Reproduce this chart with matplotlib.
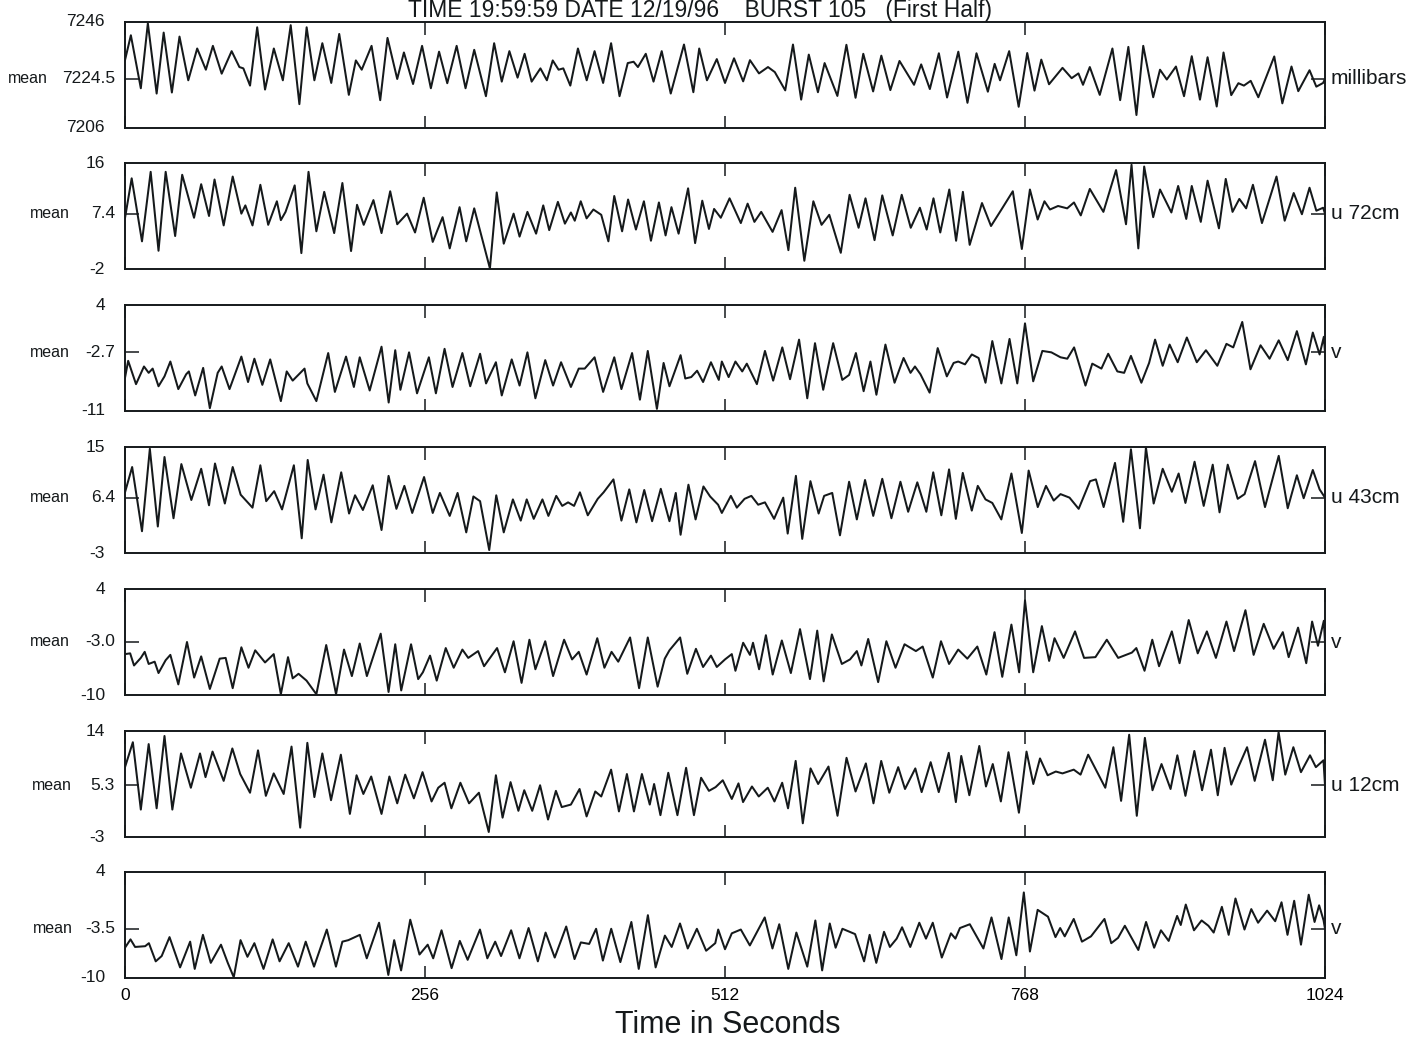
import numpy as np
import matplotlib
matplotlib.use('Agg')
from matplotlib import pyplot as plt
from matplotlib import transforms

plt.rcParams['font.family'] = ['Liberation Sans', 'DejaVu Sans']

# turning points (time in s, value)
p_millibars = [
    (0, 7231.6), (5, 7241), (13.5, 7221), (19.5, 7245.5), (27, 7219), (33, 7242), (40, 7219.4),
    (46.5, 7240.5), (54, 7224), (61.6, 7236), (69, 7228), (75, 7237), (82.5, 7226.5), (91, 7235),
    (97.6, 7229), (101, 7228.5), (106.7, 7222), (112.8, 7244), (119.5, 7220.5), (127, 7236),
    (134.7, 7224), (141.4, 7244.8), (148.8, 7215), (155, 7244), (161.6, 7224), (168.4, 7238),
    (176, 7223), (182.8, 7241.5), (191, 7218.5), (197, 7231.5), (202, 7228), (210.4, 7237),
    (217.8, 7216.5), (224, 7240), (232.3, 7224.5), (238, 7234.5), (245.8, 7222.6), (253.5, 7237),
    (261, 7221), (268, 7234.8), (275, 7222.9), (283, 7237), (290.6, 7221), (298, 7235.5),
    (308, 7218), (315, 7238), (321.5, 7223.5), (328, 7235), (335, 7225), (341, 7234),
    (347, 7223.5), (354.5, 7228.5), (360, 7224), (365, 7231.5), (370, 7228), (374, 7228.5),
    (380, 7222), (386.5, 7236), (394, 7224), (400.7, 7235), (408, 7223), (414.8, 7238),
    (422, 7218), (429, 7230.5), (434, 7231), (437.7, 7229), (444.4, 7234), (451, 7223.5),
    (458, 7235), (465.7, 7219), (477, 7237.5), (485, 7219.5), (490, 7236), (496.6, 7224),
    (505, 7232), (512, 7223), (519.7, 7232.3), (527.5, 7223.6), (533.3, 7231.6), (541, 7226.6),
    (548.7, 7229), (554.5, 7227.1), (563.4, 7220.2), (570, 7237.5), (577, 7216.7), (583.5, 7233.7),
    (591.3, 7219.5), (597, 7230.5), (607.9, 7218.1), (615.6, 7237.4), (623.4, 7217.4), (630, 7234),
    (638.4, 7219.8), (645.4, 7233.3), (653.1, 7220.3), (660.9, 7231.3), (673.3, 7222.3), (679.4, 7230),
    (686.8, 7220.7), (694.5, 7234.2), (701.5, 7217.5), (711.1, 7234.8), (718.9, 7215.5), (726.6, 7234.2),
    (736.3, 7219.7), (742.1, 7230.2), (746.7, 7224), (754.5, 7235), (762.6, 7214), (769.9, 7234.3),
    (776.1, 7220.1), (781.9, 7231.8), (788.5, 7222.5), (800, 7228.7), (807.8, 7224.8), (813.6, 7226.6),
    (817.5, 7222.3), (823.3, 7229), (831.8, 7218.5), (842.6, 7236), (849.2, 7216.5), (856.2, 7236.6),
    (863.1, 7210.9), (868.9, 7237), (877.4, 7217.6), (883.2, 7228), (889, 7224.3), (896.8, 7229.2),
    (903.7, 7218), (910.3, 7233.1), (917.3, 7216.7), (923.8, 7232.7), (931.6, 7214.1), (937.4, 7234.5),
    (944, 7218.4), (950.1, 7222.9), (954.8, 7222), (960.6, 7223.8), (967.1, 7217.6), (980.7, 7233),
    (987.6, 7215.3), (995.4, 7229.2), (1001.2, 7219.9), (1010.8, 7227.8), (1016.6, 7221.6),
    (1022.4, 7223), (1024, 7224.5),
]

u_72cm = [
    (0, 6.65), (5.7, 13.4), (14.5, 2.7), (21.9, 14.5), (28.6, 1.1), (34.7, 14.5), (42.8, 3.6),
    (48.8, 14), (58.9, 6.7), (65, 12.4), (71.7, 7.0), (76.4, 13.2), (84.2, 5.4), (91.9, 13.7),
    (99.3, 7.4), (102.7, 8.8), (108.8, 5.4), (115.5, 12.3), (122.2, 5.5), (129.6, 9.5), (133, 6.3),
    (137, 7.7), (144.8, 12.2), (150.5, 0.7), (156.6, 14.5), (163.3, 4.4), (170, 11.1), (178.5, 4.1),
    (185.5, 12.6), (192.9, 1.05), (198, 8.9), (203.7, 5.5), (212, 9.7), (218.9, 4.1), (226.3, 11.2),
    (232.3, 5.6), (240.7, 7.4), (247.5, 4.2), (254.9, 10.1), (262.6, 2.6), (271, 6.8), (277.1, 1.5),
    (285.5, 8.5), (291.2, 2.7), (298, 8.3), (311.4, -1.9), (317.2, 11.0), (323.2, 2.3), (331.6, 7.4),
    (336.7, 3.5), (343.4, 7.7), (350.8, 4.0), (356.9, 8.8), (362, 4.6), (369.4, 9.4), (375.4, 5.7),
    (380.5, 7.6), (383.8, 6.2), (388.9, 9.5), (393.9, 6.6), (399.7, 8.1), (406.4, 7.2), (412.5, 2.7),
    (417.5, 10.4), (424.2, 4.4), (429.3, 9.8), (436, 4.7), (442.8, 9.5), (448.8, 2.8), (455.6, 9.3),
    (461.3, 3.7), (466.3, 8.5), (472.4, 4.0), (480.5, 11.7), (486.5, 2.4), (492.6, 9.6), (498.3, 4.8),
    (502.7, 8.2), (508.4, 6.7), (515.9, 10.0), (525.5, 5.8), (531.3, 9.1), (537.1, 6.0), (542.9, 7.7),
    (552.6, 4.3), (560.3, 8.0), (566.1, 1.2), (571.9, 11.8), (579.7, -0.6), (587.4, 9.5), (594.4, 5.5),
    (601, 7.2), (610.8, 0.75), (618.3, 10.6), (626, 5.0), (631.9, 10.0), (639.6, 2.9), (646.2, 10.5),
    (655.1, 3.7), (662.8, 10.6), (670.5, 5.0), (678.3, 8.4), (684.1, 4.7), (689.9, 10.0), (695.7, 4.2),
    (703.4, 11.5), (709.2, 2.8), (715, 11.1), (720.8, 2.1), (731.3, 9.2), (739, 5.3), (747.9, 8.1),
    (757.6, 11.2), (765.3, 1.4), (772.2, 11.5), (778.8, 6.4), (784.6, 9.5), (789.3, 8.1), (796.2, 8.7),
    (804, 8.3), (809.8, 9.3), (815.6, 7.1), (823.3, 11.6), (834.9, 7.7), (845.7, 14.8), (854.2, 5.6),
    (858.9, 15.7), (864.7, 1.5), (869.7, 15.4), (877.4, 6.8), (883.2, 11.5), (892.9, 7.6), (898.7, 12.1),
    (905.6, 6.5), (910.3, 12.1), (918, 6.0), (923.8, 13.0), (933.5, 4.9), (939.3, 13.3), (945.1, 7.7),
    (950.9, 9.9), (956.7, 8.3), (962.5, 12.3), (970.2, 5.8), (982.6, 13.7), (989.6, 6.2), (997.3, 10.9),
    (1004.3, 7.3), (1010.8, 11.8), (1016.6, 7.9), (1022.4, 8.4), (1024, 7.4),
]

v_72cm = [
    (0, -6.3), (2.7, -3.9), (9.4, -7.2), (16.2, -4.7), (20.2, -5.6), (23.6, -5.0), (28.6, -7.5),
    (33.7, -6.1), (38.7, -4.0), (45.5, -7.9), (52.2, -5.8), (54.5, -5.4), (59.9, -8.8), (66.7, -4.9),
    (72.4, -10.6), (79.1, -5.6), (82.5, -4.7), (89.2, -7.9), (99.3, -3.3), (105, -6.9), (110.4, -3.6),
    (117.2, -7.3), (123.9, -3.7), (133, -9.6), (138, -5.4), (143.1, -6.7), (153.2, -5.0), (155.6, -7.1),
    (163.3, -9.6), (173.4, -2.8), (179.1, -8.3), (188.6, -3.3), (195.3, -7.6), (200.3, -3.4),
    (208.8, -8.1), (218.9, -1.9), (225, -9.8), (230.6, -2.4), (235, -8.0), (242.4, -2.7), (249.2, -8.5),
    (259.3, -3.4), (265.3, -8.5), (272.7, -2.2), (279.5, -7.6), (287.9, -2.8), (294.6, -7.5),
    (303, -2.9), (308.1, -7.1), (316.5, -4.1), (321.5, -8.8), (330, -3.7), (336.7, -7.4), (343.4, -2.7),
    (350.2, -9.2), (358.6, -3.8), (365.3, -7.4), (372.1, -4.1), (380.5, -7.6), (387.2, -5.0),
    (392.3, -5.0), (400.7, -3.4), (408, -8.3), (417.5, -3.4), (423.6, -7.9), (432.7, -2.8),
    (439.4, -9.4), (446.1, -2.5), (453.9, -10.7), (459.6, -4.2), (464.6, -7.5), (474.1, -3.1),
    (478.1, -6.4), (483.2, -6.2), (488.2, -5.3), (493.3, -6.9), (500, -4.1), (506.7, -6.6),
    (509.3, -4.0), (515.1, -6.2), (520.9, -4.0), (526.7, -5.4), (530.6, -4.3), (539.2, -7.2),
    (546.1, -2.5), (553.1, -6.7), (560.9, -2.0), (567.5, -6.5), (575.2, -0.9), (582.2, -9.2),
    (588.8, -1.4), (595.8, -8.0), (604.3, -1.4), (612.1, -6.6), (617.9, -5.9), (623.7, -2.8),
    (630.3, -8.2), (636.1, -4.0), (641.2, -8.7), (648.9, -1.6), (656.7, -7.0), (664.4, -3.5),
    (670.3, -5.6), (674.1, -4.7), (678.8, -5.8), (686.6, -8.4), (693.5, -2.1), (701.3, -6.1),
    (707.1, -4.2), (711, -4.0), (716.8, -4.4), (722.6, -3.0), (728.4, -3.5), (734.3, -7.0),
    (740.1, -1.1), (747.8, -7.1), (754.8, -0.8), (761.4, -7.1), (768, 1.4), (775, -6.8), (782.8, -2.5),
    (790.5, -2.7), (798.3, -3.4), (804.1, -3.6), (809.9, -2.0), (819.6, -7.4), (825.4, -4.3),
    (833.2, -5.0), (839, -2.9), (846.8, -5.4), (852.6, -5.6), (858.4, -3.2), (867.3, -7.0),
    (873.9, -4.2), (879, -0.9), (885.5, -4.6), (891.4, -1.6), (898.3, -4.1), (906.1, -0.6),
    (914.6, -4.1), (922.4, -2.4), (932.1, -4.6), (939.9, -1.5), (945.7, -2.0), (953.4, 1.6),
    (960.4, -5.1), (969, -1.7), (976.7, -3.6), (984.5, -1.0), (992.2, -3.8), (1000, 0.3),
    (1007.7, -4.4), (1013.6, 0.1), (1019.4, -3.0), (1023, -0.5), (1024, -2.7),
]

u_43cm = [
    (0, 7.3), (6.1, 11.6), (14.5, 0.7), (21.2, 14.7), (28, 1.5), (33.7, 13.3), (41.4, 2.9),
    (48.1, 12.1), (56.6, 6.0), (65, 11.3), (71.7, 5.1), (76.8, 12.2), (85.2, 5.4), (91.9, 11.6),
    (98.7, 6.9), (108.8, 4.7), (115.5, 11.9), (120.5, 5.8), (127.3, 7.5), (134, 4.4), (144.1, 11.9),
    (150.8, -0.5), (155.9, 12.8), (162.6, 4.4), (169.4, 10.3), (176.1, 2.2), (184.5, 10.7),
    (191.2, 3.7), (196.3, 6.8), (203, 4.3), (211.4, 8.5), (218.9, 0.9), (224.9, 10.1), (231.6, 4.5),
    (238.4, 8.4), (245.1, 3.8), (255.2, 9.9), (262.6, 3.8), (268.7, 7.2), (277.1, 3.3), (283.8, 7.2),
    (291.2, 0.5), (297.3, 6.6), (303, 5.8), (310.8, -2.5), (316.8, 6.8), (323.2, 0.5), (331, 6.1),
    (337.7, 2.5), (342.8, 6.1), (348.8, 2.8), (356.2, 6.1), (361.3, 3.3), (368, 6.7), (373.1, 5.0),
    (378.1, 5.6), (383.2, 5.0), (388.2, 7.3), (394.9, 3.4), (403.4, 6.2), (408.4, 7.3), (416.8, 9.5),
    (423.6, 2.5), (430.3, 7.8), (436.4, 2.2), (443.1, 7.7), (449.8, 2.4), (457.2, 7.9), (464.6, 2.4),
    (470, 7.2), (474.1, 0.1), (480.8, 8.6), (486.9, 2.7), (493.6, 8.3), (499.3, 6.6), (506.1, 5.2),
    (509.3, 3.8), (517, 6.7), (522.1, 4.7), (528.7, 6.2), (534.5, 6.7), (540.3, 5.2), (546.1, 5.6),
    (553.9, 2.8), (561.7, 6.4), (565.5, 0.3), (572.5, 10.1), (577.9, -0.6), (584.9, 9.2), (591.9, 3.7),
    (596.6, 6.7), (603.5, 7.2), (610.1, 0.0), (617.9, 9.1), (624.5, 2.7), (631.5, 9.4), (638.5, 3.3),
    (646.2, 9.6), (654, 2.9), (661.7, 9.1), (668.3, 4.0), (676.1, 9.0), (683.8, 4.0), (689.7, 10.7),
    (696.6, 3.4), (703.2, 11.2), (709, 2.8), (714.9, 10.6), (722.6, 4.2), (727.7, 8.4), (734.3, 6.1),
    (740.1, 5.5), (747.8, 2.7), (756.4, 10.5), (765.3, 0.4), (771.1, 11.0), (778.9, 4.8), (785.9, 8.4),
    (792.5, 5.9), (798.3, 7.0), (806, 6.4), (813.8, 4.5), (823.5, 9.2), (828.5, 9.5), (835.1, 4.8),
    (844.8, 12.3), (851.8, 2.3), (858.4, 14.6), (866.1, 1.2), (871.2, 14.9), (877.8, 5.4),
    (885.5, 11.3), (893.3, 7.4), (899.1, 10.5), (904.9, 5.5), (912.7, 12.5), (920.5, 5.0),
    (928.2, 12.0), (934, 3.9), (941, 12.0), (949.5, 6.2), (955.4, 7.0), (964.3, 12.6), (972.8, 4.8),
    (984.5, 13.5), (992.2, 4.6), (1000, 10.2), (1005.8, 6.3), (1013.6, 11.1), (1019.4, 7.8),
    (1024, 6.4),
]

v_43cm = [
    (0, -4.6), (4.4, -4.5), (7.7, -6.1), (13.5, -5.1), (16.8, -4.3), (20.2, -5.9), (25.3, -5.6),
    (28.6, -7.1), (34.7, -5.4), (38.7, -4.7), (45.5, -8.6), (52.9, -3.0), (59, -7.7), (65, -4.9),
    (72.4, -9.2), (80.8, -5.2), (85.9, -5.1), (91.9, -9.1), (99.3, -3.7), (105.4, -6.4), (111.1, -4.1),
    (119.5, -5.7), (126.9, -4.6), (133, -9.9), (139.1, -5.0), (143.1, -7.8), (148.1, -7.2),
    (154.9, -8.1), (163.3, -9.9), (171.7, -3.4), (180.1, -9.9), (186.9, -4.0), (193.6, -7.5),
    (200.3, -3.2), (206.4, -7.5), (218.2, -1.9), (224.9, -9.6), (230.6, -3.3), (235.7, -9.4),
    (244.1, -3.3), (250.2, -7.9), (254.2, -7.0), (260.3, -4.8), (266, -8.1), (273.7, -3.8),
    (280.5, -6.4), (287.9, -4.0), (292.9, -5.1), (301.3, -4.2), (306.4, -6.2), (317.5, -3.8),
    (324.2, -7.0), (331.6, -2.9), (338.4, -8.4), (345.1, -2.7), (350.2, -6.6), (358.6, -2.9),
    (365.3, -7.5), (374.7, -2.7), (381.5, -5.3), (387.2, -4.3), (393.9, -7.3), (403, -2.5),
    (409.1, -6.4), (415.2, -4.3), (420.9, -5.6), (431, -2.4), (438.7, -9.1), (446.1, -2.4),
    (454.5, -8.9), (460.6, -5.2), (464.6, -4.1), (473.7, -2.4), (479.8, -7.2), (487.2, -3.9),
    (493.3, -6.3), (500, -4.8), (505, -6.3), (512, -5.3), (517.8, -4.6), (520.9, -6.8), (527.5, -3.1),
    (533.3, -4.7), (535.9, -3.1), (541.1, -6.6), (546.9, -2.1), (552.7, -7.3), (560.5, -2.8),
    (568.2, -7.1), (576, -1.3), (584.5, -7.9), (590.7, -1.5), (596.2, -8.2), (603.2, -2.0),
    (611.7, -5.9), (618.7, -5.3), (624.5, -4.2), (628.4, -6.1), (634.2, -2.6), (642.7, -8.3),
    (649.7, -2.9), (657.5, -6.4), (665.2, -3.3), (674.9, -4.2), (680.7, -3.6), (689.3, -7.7),
    (696.3, -2.9), (703.2, -5.9), (711, -4.0), (718.8, -5.2), (727.3, -3.6), (735, -7.3), (742, -1.7),
    (748.6, -7.6), (756.4, -0.7), (763, -7.0), (768, 2.5), (775, -7.0), (782.4, -0.9), (788.6, -5.5),
    (793.2, -2.5), (801, -5.1), (810.7, -1.6), (818.4, -5.1), (828.1, -5.0), (837.8, -2.7),
    (847.5, -5.1), (859.2, -4.4), (863, -3.8), (870, -6.8), (876.6, -2.7), (882.4, -6.2), (893.3, -1.6),
    (899.9, -5.8), (907.7, -0.1), (915.4, -4.5), (923.2, -1.6), (930.9, -5.1), (939.9, -0.3),
    (946.4, -4.2), (956.1, 1.2), (963.1, -4.7), (971.7, -0.6), (980.2, -3.9), (988, -1.7), (993, -5.0),
    (1001, -1.1), (1008, -5.8), (1013, -0.3), (1018, -3.5), (1023, -0.2), (1024, -3.0),
]

u_12cm = [
    (0, 8.2), (6.7, 12.2), (13.5, 1.4), (20.2, 11.9), (27, 1.6), (33.7, 13.2), (40.4, 1.4),
    (47.8, 10.4), (56.2, 4.9), (64, 10.4), (68.7, 6.6), (74.7, 10.7), (84.2, 6.0), (91.6, 11.2),
    (98.3, 7.1), (106.7, 4.1), (113.5, 10.9), (120.2, 3.6), (126.9, 7.2), (135.4, 3.9), (142.1, 11.5),
    (149.5, -1.5), (155.6, 12.1), (161.6, 3.4), (168.4, 10.4), (175.8, 2.9), (184.2, 10.2),
    (191.9, 0.7), (197.6, 6.9), (203.4, 3.9), (210.1, 6.7), (218.9, 0.7), (225.6, 6.7), (232.3, 2.4),
    (239.1, 7.0), (246.5, 3.2), (253.9, 7.4), (261.6, 2.7), (267.3, 4.9), (272.7, 5.7), (278.5, 1.6),
    (286.2, 5.7), (293.6, 2.4), (302, 4.1), (310.4, -2.2), (316.5, 6.9), (322.2, 0.1), (329, 5.8),
    (335.7, 1.2), (340.7, 4.5), (347.5, 1.2), (354.2, 5.3), (361, -0.2), (367.7, 4.4), (372.7, 1.8),
    (380.5, 2.2), (387.9, 4.7), (393.9, 0.3), (401.3, 4.3), (406.4, 3.5), (414.8, 7.8), (421.5, 1.1),
    (428.3, 7.1), (434.3, 1.1), (441.1, 7.1), (447.8, 2.2), (451.5, 5.5), (456.9, 0.5), (463.6, 7.3),
    (471.4, 0.5), (478.8, 8.1), (485.5, 0.5), (491.6, 6.5), (498.3, 4.4), (504, 5.0), (510.1, 6.1),
    (517.8, 3.1), (523.5, 5.6), (527.4, 2.6), (535, 5.1), (540.8, 3.5), (548.5, 4.9), (554.2, 2.7),
    (560.8, 5.7), (565.8, 1.6), (572.3, 9.2), (578.4, -0.8), (585, 8.0), (591.5, 5.5), (600.3, 8.3),
    (608, 0.4), (615.7, 9.7), (623.4, 4.3), (632.2, 8.8), (638.7, 2.4), (645.3, 9.2), (652.2, 4.1),
    (659.8, 8.2), (665.6, 4.7), (674.4, 8.0), (679.8, 4.2), (687.5, 9.0), (694.4, 4.2), (702.9, 10.5),
    (709, 2.6), (713.6, 10.0), (720.5, 3.7), (729, 11.6), (734.7, 5.1), (740.5, 8.7), (747.4, 2.7),
    (753.9, 10.6), (762.8, 0.9), (769.3, 10.7), (775.1, 5.5), (780.8, 9.6), (787.3, 6.9), (794.3, 7.5),
    (800, 7.2), (809.6, 7.8), (815.4, 7.0), (821.9, 10.2), (836.5, 4.9), (843.4, 11.4), (850, 2.8),
    (856.9, 13.4), (863.4, 0.4), (870.3, 12.9), (876.8, 4.5), (884.5, 8.7), (892.2, 4.7), (898, 10.1),
    (904.9, 3.6), (912.5, 10.8), (919.1, 4.5), (926.7, 11.0), (932.5, 3.7), (938.3, 11.3), (944, 5.4),
    (949.8, 8.1), (957.5, 11.4), (964, 6.0), (972.8, 12.6), (979.4, 6.1), (984.4, 13.8), (990.1, 7.0),
    (997, 11.4), (1003.5, 7.4), (1011.2, 10.1), (1016.2, 8.2), (1022.7, 9.3), (1024, 5.3),
]

v_12cm = [
    (0, -6.0), (4.7, -4.9), (8.6, -5.9), (17.2, -5.8), (20.4, -5.4), (26.2, -7.8), (31.3, -7.1),
    (38, -4.6), (47, -8.6), (55.6, -5.2), (59.5, -8.8), (66.5, -4.3), (73.2, -8.0), (81.9, -5.6),
    (87.7, -8.0), (92.8, -9.9), (98.6, -5.0), (104.5, -7.2), (110.4, -5.4), (118.2, -8.8), (126, -4.9),
    (131.9, -7.8), (139.7, -5.4), (147.6, -8.5), (154.2, -5.2), (161.3, -8.5), (172.2, -3.6),
    (180, -8.5), (185.5, -5.2), (190.6, -5.0), (200.4, -4.3), (206.3, -7.4), (216.8, -2.7),
    (224.7, -9.6), (229.7, -5.0), (235.6, -9.0), (243.4, -2.3), (251.3, -6.9), (258.3, -5.6),
    (263, -7.4), (270.1, -3.7), (278.7, -8.7), (285.7, -5.1), (292.4, -7.6), (302.9, -3.6),
    (309.2, -7.4), (315.9, -5.2), (320.9, -7.1), (329.5, -3.7), (336.6, -7.4), (344.4, -3.4),
    (352.3, -7.8), (358.9, -4.0), (366.7, -7.3), (376.5, -3.2), (383.6, -7.5), (389, -5.3),
    (396.1, -5.5), (402, -3.5), (407.8, -7.7), (414.9, -3.5), (422.7, -7.9), (432.1, -2.6),
    (438.4, -8.8), (446.2, -1.7), (452.8, -8.6), (460.7, -4.4), (466.5, -5.9), (473.6, -2.8),
    (480.2, -6.1), (488, -3.5), (495.9, -6.4), (503.7, -5.4), (506.2, -3.6), (512, -6.2),
    (517.8, -4.1), (525.5, -3.6), (533.2, -5.7), (545.9, -2.0), (552.5, -6.1), (558.3, -2.9),
    (566, -8.8), (572.9, -4.0), (582.2, -8.5), (589.1, -2.4), (594.9, -9.0), (601.4, -2.8),
    (606.4, -6.0), (612.2, -3.5), (623, -4.2), (630.7, -7.8), (635.4, -4.3), (641.1, -8.0),
    (647.7, -3.9), (652.7, -5.9), (658.5, -4.8), (663.1, -3.3), (670.1, -5.9), (677.8, -2.7),
    (683.5, -4.8), (689.3, -2.7), (697, -7.3), (704.8, -4.1), (708.6, -4.8), (712.5, -3.4),
    (720.9, -2.9), (726, -4.3), (732.5, -6.1), (739.4, -2.0), (747.9, -7.5), (754.1, -2.0),
    (760.6, -7.0), (767, 1.3), (772.2, -6.5), (778.8, -1.0), (787.6, -1.9), (794, -4.6), (798, -3.4),
    (801.9, -4.5), (809.6, -2.2), (816.6, -5.2), (824.3, -4.5), (835.8, -2.2), (841.6, -5.4),
    (847.4, -4.7), (853.2, -3.1), (864.7, -6.3), (871.3, -2.6), (878.2, -6.0), (884, -3.7),
    (890.6, -5.1), (897.8, -1.8), (900.9, -3.0), (905.2, -0.3), (912.2, -3.7), (918.7, -2.4),
    (924.5, -3.1), (929, -4.0), (936, -0.6), (941.8, -4.3), (947.6, 0.5), (955.3, -3.6), (961.1, -0.9),
    (966.9, -2.7), (974.6, -1.1), (981.5, -2.5), (986.9, 0.0), (992, -4.3), (997.7, 0.2),
    (1003.5, -5.6), (1010.1, 1.0), (1015.1, -2.6), (1019, -0.4), (1022.8, -2.4), (1024, -3.5),
]

series = [p_millibars, u_72cm, v_72cm, u_43cm, v_43cm, u_12cm, v_12cm]
names = ['millibars', 'u 72cm', 'v', 'u 43cm', 'v', 'u 12cm', 'v']
y_top = [7246, 16, 4, 15, 4, 14, 4]
y_bot = [7206, -2, -11, -3, -10, -3, -10]
y_mean = [7224.5, 7.4, -2.7, 6.4, -3.0, 5.3, -3.5]
mean_labels = ['7224.5', '7.4', '-2.7', '6.4', '-3.0', '5.3', '-3.5']
time_ticks = [0, 256, 512, 768, 1024]
title = 'TIME 19:59:59 DATE 12/19/96    BURST 105   (First Half)'

W, H = 1408, 1040
ink = '#15191b'
box_tops = [22, 163, 305, 447, 589, 731, 872]
box_h = 106
box_left, box_w = 125, 1200
mean_word_x = [8, 30, 30, 30, 30, 32, 33]

fig = plt.figure(figsize=(W / 100, H / 100), dpi=100)
fig.patch.set_facecolor('white')

for i, pts in enumerate(series):
    ax = fig.add_axes([box_left / W, 1 - (box_tops[i] + box_h) / H, box_w / W, box_h / H])
    t, v = np.array(pts).T
    ax.plot(t, v, color=ink, linewidth=1.45, solid_joinstyle='round')
    ax.set_xlim(0, 1024)
    ax.set_ylim(y_bot[i], y_top[i])
    for s in ax.spines.values():
        s.set_linewidth(1.4)
        s.set_color(ink)

    ax.set_xticks(time_ticks)
    ax.tick_params(axis='x', direction='in', top=True, bottom=True, length=9, width=1.1,
                   color=ink, labelbottom=(i == len(series) - 1), labelsize=12.5, pad=7)
    ax.set_yticks([y_mean[i]])
    ax.tick_params(axis='y', direction='in', left=True, right=True, length=10, width=1.1,
                   color=ink, labelleft=False)

    tr = transforms.blended_transform_factory(ax.transAxes, ax.transData)
    ax.text(-20 / box_w, y_top[i], str(y_top[i]), transform=tr, ha='right', va='center',
            fontsize=12.5, color=ink)
    ax.text(-20 / box_w, y_bot[i], str(y_bot[i]), transform=tr, ha='right', va='center',
            fontsize=12.5, color=ink)
    ax.text(-10 / box_w, y_mean[i], mean_labels[i], transform=tr, ha='right', va='center',
            fontsize=12.5, color=ink)
    ax.text(1 + 6 / box_w, y_mean[i], names[i], transform=tr, ha='left', va='center',
            fontsize=15, color=ink)
    trf = transforms.blended_transform_factory(fig.transFigure, ax.transData)
    ax.text(mean_word_x[i] / W, y_mean[i], 'mean', transform=trf, ha='left', va='center',
            fontsize=11.5, color=ink)

fig.text(728 / W, 1 - 1025 / H, 'Time in Seconds', ha='center', va='center', fontsize=22, color=ink)
fig.text(700 / W, 1 - 17.5 / H, title, ha='center', va='baseline', fontsize=16.5, color=ink)

fig.savefig('out.png', dpi=100)
